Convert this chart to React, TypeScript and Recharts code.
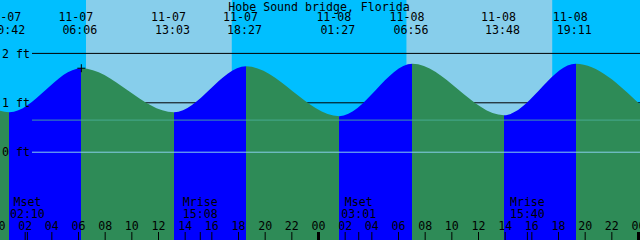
import React from 'react';
import {
  ComposedChart,
  Area,
  XAxis,
  YAxis,
  ReferenceArea,
  ReferenceLine,
  ReferenceDot,
} from 'recharts';

// ---------- data ----------
const TITLE = 'Hobe Sound bridge, Florida';

const eventDates = ['11-07', '11-07', '11-07', '11-07', '11-08', '11-08', '11-08', '11-08'];
const eventTimes = ['00:42', '06:06', '13:03', '18:27', '01:27', '06:56', '13:48', '19:11'];
const eventHeights = [0.81, 1.70, 0.81, 1.74, 0.73, 1.79, 0.75, 1.79];

const startDate = '11-07';
const startHeight = 0.84; // height at left edge (11-07 00:00)
const endDate = '11-09';
const endHeight = 0.97; // height at right edge (11-09 00:00)

const sunDates = ['11-07', '11-08'];
const sunriseTimes = ['06:27', '06:29'];
const sunsetTimes = ['17:23', '17:25'];

const moonNames = ['Mset', 'Mrise', 'Mset', 'Mrise'];
const moonDates = ['11-07', '11-07', '11-08', '11-08'];
const moonTimes = ['02:10', '15:08', '03:01', '15:40'];

const hourTicks = [0, 2, 4, 6, 8, 10, 12, 14, 16, 18, 20, 22, 24, 26, 28, 30, 32, 34, 36, 38, 40, 42, 44, 46, 48];
const levelTicks = [0, 1, 2];
const blackLevels = [1, 2];
const mslLevel = 0.65;
const datumLevel = 0;

// ---------- style ----------
const W = 640;
const H = 240;
const FONT = '"DejaVu Sans Mono", monospace';
const FS = 11.6;
const NIGHT = '#00BFFF';
const DAY = '#87CEEB';
const RISE = '#0000FF';
const FALL = '#2E8B57';
const Y_MIN = -1.777;
const Y_MAX = 3.081;
const LABEL_GUTTER = 32;
const TICK_SHIFT = -1.5;

// ---------- helpers ----------
const toHours = (date: string, time: string) => {
  const day = parseInt(date.split('-')[1], 10) - parseInt(startDate.split('-')[1], 10);
  const [hh, mm] = time.split(':').map((s) => parseInt(s, 10));
  return day * 24 + hh + mm / 60;
};

const X_MIN = toHours(startDate, '00:00');
const X_MAX = toHours(endDate, '00:00');
const gutterT = X_MIN + (LABEL_GUTTER / W) * (X_MAX - X_MIN);

const eventHours = eventTimes.map((t, i) => toHours(eventDates[i], t));
const tideData = [
  { t: X_MIN, h: startHeight },
  ...eventHours.map((t, i) => ({ t, h: eventHeights[i] })),
  { t: X_MAX, h: endHeight },
];

const sunrises = sunriseTimes.map((t, i) => toHours(sunDates[i], t));
const sunsets = sunsetTimes.map((t, i) => toHours(sunDates[i], t));
const dayBands = sunrises.map((r, i) => [r, sunsets[i]]);
const nightBands: number[][] = [];
{
  let prev = X_MIN;
  dayBands.forEach(([r, s]) => {
    nightBands.push([prev, r]);
    prev = s;
  });
  nightBands.push([prev, X_MAX]);
}

const moonHours = moonTimes.map((t, i) => toHours(moonDates[i], t));

const fillStops: { off: number; color: string }[] = [];
for (let i = 0; i < tideData.length - 1; i++) {
  const a = tideData[i];
  const b = tideData[i + 1];
  const color = b.h > a.h ? RISE : FALL;
  fillStops.push({ off: (a.t - X_MIN) / (X_MAX - X_MIN), color });
  fillStops.push({ off: (b.t - X_MIN) / (X_MAX - X_MIN), color });
}

const pad2 = (n: number) => (n < 10 ? '0' + n : '' + n);

const txt = (x: number, y: number, s: string, anchor: 'start' | 'middle' = 'middle') => (
  <text x={x} y={y} textAnchor={anchor} fontFamily={FONT} fontSize={FS} fill="#000">
    {s}
  </text>
);

// ---------- label renderers ----------
const makeHourTick = (v: number) => (props: any) => {
  const vb = props.viewBox || {};
  const tx = (vb.x ?? 0) + TICK_SHIFT;
  const bottom = (vb.y ?? 0) + (vb.height ?? H);
  const midnight = Math.abs(v % 24) < 1e-6;
  return (
    <g>
      {midnight ? (
        <rect x={tx - 1.5} y={bottom - 8} width={3} height={8} fill="#000" />
      ) : (
        <line x1={tx} x2={tx} y1={bottom - 8} y2={bottom} stroke="#000" strokeWidth={1} />
      )}
      {txt(tx, bottom - 10, pad2(Math.round(v) % 24))}
    </g>
  );
};

const makeMoonTick = (i: number) => (props: any) => {
  const vb = props.viewBox || {};
  const tx = (vb.x ?? 0) + TICK_SHIFT;
  const bottom = (vb.y ?? 0) + (vb.height ?? H);
  return (
    <g>
      <line x1={tx} x2={tx} y1={bottom - 8} y2={bottom} stroke="#000" strokeWidth={1} />
      {txt(tx, bottom - 34, moonNames[i])}
      {txt(tx, bottom - 22, moonTimes[i])}
    </g>
  );
};

const makeEventLabel = (i: number) => (props: any) => {
  const vb = props.viewBox || {};
  const x = vb.x ?? 0;
  const top = vb.y ?? 0;
  return (
    <g>
      {txt(x - 5.5, top + 21, eventDates[i])}
      {txt(x - 1.5, top + 34, eventTimes[i])}
    </g>
  );
};

const makeLevelLabel = (lv: number) => (props: any) => {
  const vb = props.viewBox || {};
  const y = vb.y ?? 0;
  return (
    <text x={2} y={y} dy="0.355em" textAnchor="start" fontFamily={FONT} fontSize={FS} fill="#000">
      {`${lv} ft`}
    </text>
  );
};

const TitleLabel = (props: any) => {
  const vb = props.viewBox || {};
  const cx = (vb.x ?? 0) + (vb.width ?? W) / 2 - 1;
  return txt(cx, (vb.y ?? 0) + 10.5, TITLE);
};

const PlusMark = (props: any) => {
  const { cx, cy } = props;
  return (
    <g>
      <line x1={cx - 4} x2={cx + 4} y1={cy} y2={cy} stroke="#000" strokeWidth={1} />
      <line x1={cx} x2={cx} y1={cy - 4} y2={cy + 4} stroke="#000" strokeWidth={1} />
    </g>
  );
};

export default function App() {
  return (
    <div style={{ position: 'absolute', left: 0, top: 0, width: W, height: H, background: NIGHT }}>
      <ComposedChart width={W} height={H} data={tideData} margin={{ top: 0, right: 0, bottom: 0, left: 0 }}>
        <defs>
          <linearGradient id="tideFill" x1="0" y1="0" x2="1" y2="0">
            {fillStops.map((s, i) => (
              <stop key={i} offset={s.off} stopColor={s.color} stopOpacity={1} />
            ))}
          </linearGradient>
        </defs>
        <XAxis dataKey="t" type="number" domain={[X_MIN, X_MAX]} allowDataOverflow hide />
        <YAxis type="number" domain={[Y_MIN, Y_MAX]} allowDataOverflow hide />
        {nightBands.map(([a, b], i) => (
          <ReferenceArea key={'n' + i} x1={a} x2={b} fill={NIGHT} fillOpacity={1} stroke="none" zIndex={-300} ifOverflow="hidden" />
        ))}
        {dayBands.map(([a, b], i) => (
          <ReferenceArea key={'d' + i} x1={a} x2={b} fill={DAY} fillOpacity={1} stroke="none" zIndex={-300} ifOverflow="hidden" />
        ))}
        {blackLevels.map((lv) => (
          <ReferenceLine
            key={'bl' + lv}
            segment={[{ x: gutterT, y: lv }, { x: X_MAX, y: lv }]}
            stroke="#000"
            strokeWidth={1}
            zIndex={-200}
          />
        ))}
        <Area
          type="monotone"
          dataKey="h"
          stroke="none"
          fill="url(#tideFill)"
          fillOpacity={1}
          baseValue="dataMin"
          isAnimationActive={false}
          dot={false}
          activeDot={false}
        />
        <ReferenceLine
          segment={[{ x: gutterT, y: mslLevel }, { x: X_MAX, y: mslLevel }]}
          stroke="#4CB09A"
          strokeOpacity={0.85}
          strokeWidth={1}
          zIndex={500}
        />
        <ReferenceLine
          segment={[{ x: gutterT, y: datumLevel }, { x: X_MAX, y: datumLevel }]}
          stroke="#87CEEB"
          strokeWidth={1}
          zIndex={500}
        />
        {levelTicks.map((lv) => (
          <ReferenceLine key={'lv' + lv} y={lv} stroke="none" label={makeLevelLabel(lv)} zIndex={600} />
        ))}
        {hourTicks.map((h) => (
          <ReferenceLine key={'h' + h} x={h} stroke="none" label={makeHourTick(h)} zIndex={600} ifOverflow="visible" />
        ))}
        {moonHours.map((m, i) => (
          <ReferenceLine key={'m' + i} x={m} stroke="none" label={makeMoonTick(i)} zIndex={600} />
        ))}
        {eventHours.map((t, i) => (
          <ReferenceLine key={'ev' + i} x={t} stroke="none" label={makeEventLabel(i)} zIndex={600} />
        ))}
        <ReferenceArea x1={X_MIN} x2={X_MAX} fill="none" stroke="none" label={<TitleLabel />} zIndex={600} />
        <ReferenceDot x={eventHours[1]} y={eventHeights[1]} shape={<PlusMark />} zIndex={700} />
      </ComposedChart>
    </div>
  );
}
